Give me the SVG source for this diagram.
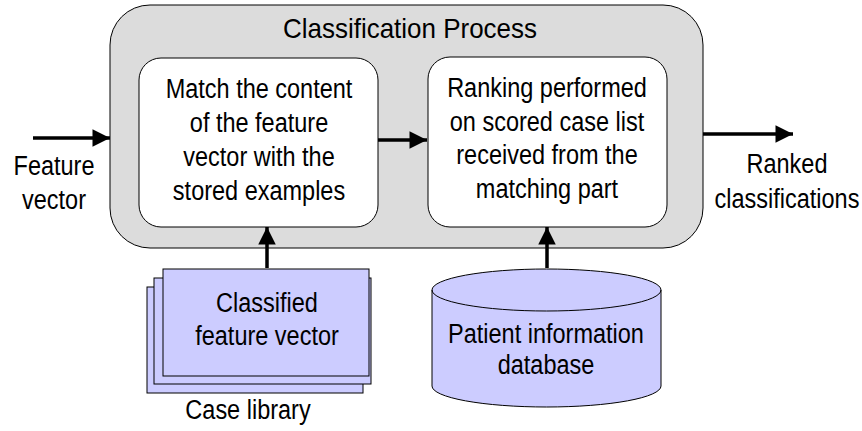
<svg xmlns="http://www.w3.org/2000/svg" width="862" height="431" viewBox="0 0 862 431">
  <style>
    text { font-family: "Liberation Sans", Arial, sans-serif; fill: #000; text-anchor: middle; }
    .title { font-size: 28px; }
    .body { font-size: 27px; }
    .proc { fill: #ffffff; stroke: #000; stroke-width: 1; }
    .store { fill: #ccccff; stroke: #000; stroke-width: 1; }
    .edge { stroke: #000; stroke-width: 3.5; fill: none; }
  </style>
  <defs>
    <marker id="head" viewBox="0 0 10 10" refX="10" refY="5" markerWidth="5.5" markerHeight="5" markerUnits="strokeWidth" orient="auto">
      <path d="M0,0 L10,5 L0,10 Z" fill="#000"/>
    </marker>
  </defs>

  <!-- container -->
  <g id="classification-process">
    <rect x="110" y="5" width="593" height="243" rx="40" ry="40" fill="#dcdcdc" stroke="#000" stroke-width="1"/>
    <text class="title" x="410" y="38" textLength="254" lengthAdjust="spacingAndGlyphs">Classification Process</text>
  </g>

  <!-- body texts are condensed horizontally to a narrow face -->
  <g id="matching">
    <rect class="proc" x="139" y="58" width="239" height="169" rx="22" ry="22"/>
    <text class="body" transform="translate(259 98) scale(0.87 1)">Match the content</text>
    <text class="body" transform="translate(259 132) scale(0.87 1)">of the feature</text>
    <text class="body" transform="translate(259 166) scale(0.87 1)">vector with the</text>
    <text class="body" transform="translate(259 200) scale(0.87 1)">stored examples</text>
  </g>

  <g id="ranking">
    <rect class="proc" x="428" y="57" width="239" height="170" rx="22" ry="22"/>
    <text class="body" transform="translate(547 97) scale(0.87 1)">Ranking performed</text>
    <text class="body" transform="translate(547 131) scale(0.87 1)">on scored case list</text>
    <text class="body" transform="translate(547 164) scale(0.87 1)">received from the</text>
    <text class="body" transform="translate(547 198) scale(0.87 1)">matching part</text>
  </g>

  <g id="case-library">
    <rect class="store" x="147" y="287" width="216" height="106"/>
    <rect class="store" x="154" y="278" width="217" height="106"/>
    <rect class="store" x="163" y="269" width="206" height="107"/>
    <text class="body" transform="translate(267 312) scale(0.87 1)">Classified</text>
    <text class="body" transform="translate(267 345) scale(0.87 1)">feature vector</text>
    <text class="body" transform="translate(248 419) scale(0.87 1)">Case library</text>
  </g>

  <g id="patient-database">
    <path class="store" d="M432,290 A114.5,21 0 0 1 661,290 L661,386 A114.5,21 0 0 1 432,386 Z"/>
    <path d="M432,290 A114.5,21 0 0 0 661,290" fill="none" stroke="#000" stroke-width="1"/>
    <text class="body" transform="translate(546 343) scale(0.87 1)">Patient information</text>
    <text class="body" transform="translate(546 374) scale(0.87 1)">database</text>
  </g>

  <g id="feature-vector-label">
    <text class="body" transform="translate(54 175) scale(0.87 1)">Feature</text>
    <text class="body" transform="translate(54 209) scale(0.87 1)">vector</text>
  </g>

  <g id="ranked-label">
    <text class="body" transform="translate(787 173) scale(0.87 1)">Ranked</text>
    <text class="body" transform="translate(787 208) scale(0.87 1)">classifications</text>
  </g>

  <!-- connectors -->
  <g id="connectors">
    <line class="edge" x1="33" y1="138" x2="110" y2="138" marker-end="url(#head)"/>
    <line class="edge" x1="378" y1="140" x2="427" y2="140" marker-end="url(#head)"/>
    <line class="edge" x1="703" y1="134" x2="793" y2="134" marker-end="url(#head)"/>
    <line class="edge" x1="267" y1="268" x2="267" y2="227" marker-end="url(#head)"/>
    <line class="edge" x1="547" y1="268" x2="547" y2="227" marker-end="url(#head)"/>
  </g>
</svg>
